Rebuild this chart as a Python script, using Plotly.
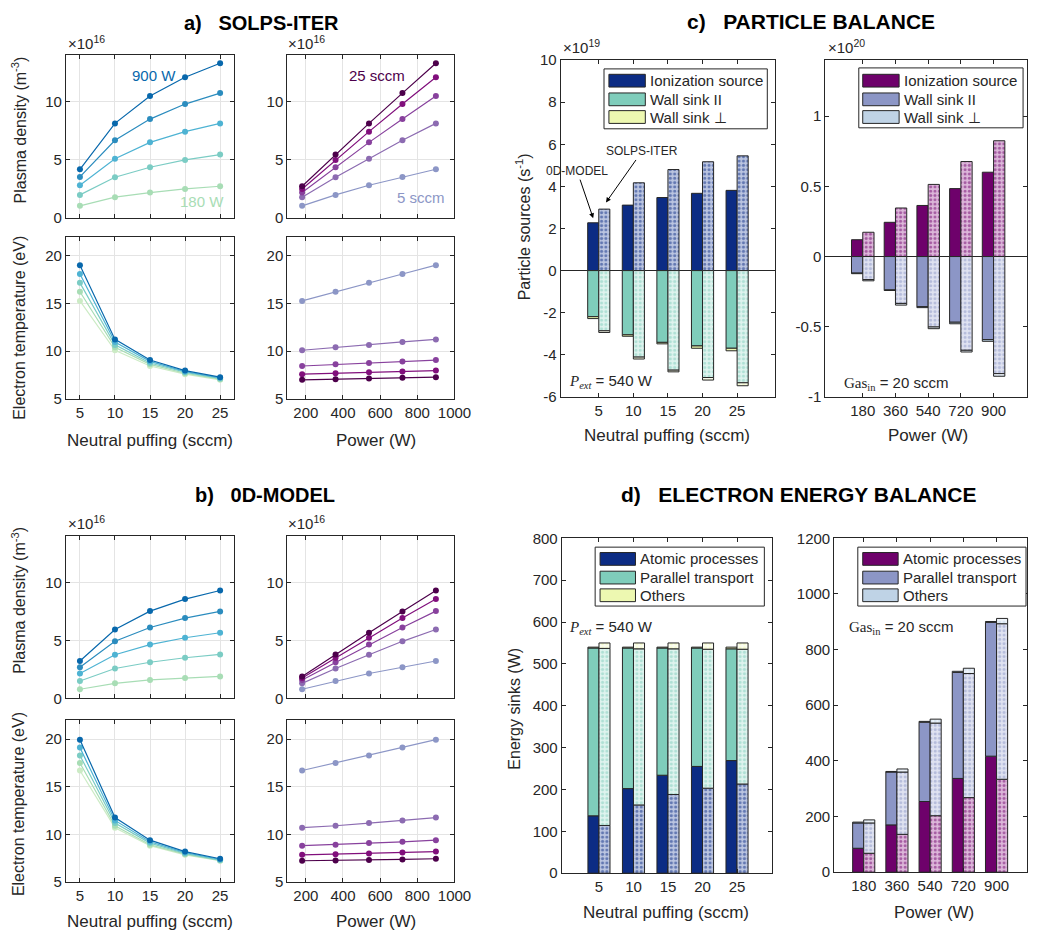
import plotly.graph_objects as go
import numpy as np

W, H = 1044, 945
FONT = "Liberation Sans, Arial, Helvetica, sans-serif"
SERIF = "Liberation Serif, Times New Roman, serif"
INK = "#262626"

# ---------------- data ----------------
puff = [5, 10, 15, 20, 25]            # sccm
power = [180, 360, 540, 720, 900]     # W

# plasma density (x1e16 m^-3), rows = power, cols = puff
dens_solps = [
    [1.06, 1.80, 2.20, 2.51, 2.74],
    [2.00, 3.51, 4.37, 5.00, 5.46],
    [2.83, 5.11, 6.51, 7.43, 8.14],
    [3.54, 6.69, 8.51, 9.80, 10.74],
    [4.20, 8.14, 10.49, 12.10, 13.30],
]
dens_0d = [
    [0.79, 1.30, 1.59, 1.76, 1.90],
    [1.50, 2.58, 3.12, 3.51, 3.80],
    [2.15, 3.77, 4.65, 5.24, 5.67],
    [2.69, 4.93, 6.12, 6.94, 7.51],
    [3.23, 5.95, 7.54, 8.58, 9.32],
]
# electron temperature (eV), rows = power, cols = puff
te_solps = [
    [15.28, 10.10, 8.45, 7.59, 7.00],
    [16.24, 10.41, 8.62, 7.69, 7.07],
    [17.17, 10.66, 8.76, 7.79, 7.14],
    [18.10, 10.97, 8.93, 7.86, 7.21],
    [19.03, 11.24, 9.07, 7.97, 7.28],
]
te_0d = [
    [16.70, 10.70, 8.81, 7.85, 7.23],
    [17.49, 10.90, 8.91, 7.92, 7.26],
    [18.28, 11.18, 9.08, 7.99, 7.30],
    [19.10, 11.46, 9.22, 8.09, 7.37],
    [19.93, 11.76, 9.39, 8.19, 7.44],
]

# particle balance vs puffing (x1e19 s^-1), P = 540 W
ion_0d_puff = [2.27, 3.11, 3.47, 3.67, 3.81]
wpar_0d_puff = [2.19, 3.05, 3.41, 3.58, 3.69]
wperp_0d_puff = [0.09, 0.07, 0.07, 0.11, 0.12]
ion_solps_puff = [2.92, 4.17, 4.80, 5.17, 5.45]
wpar_solps_puff = [2.86, 4.11, 4.73, 5.08, 5.33]
wperp_solps_puff = [0.08, 0.09, 0.08, 0.12, 0.14]
# particle balance vs power (x1e20 s^-1), gas = 20 sccm
ion_0d_pow = [0.120, 0.244, 0.364, 0.484, 0.601]
wpar_0d_pow = [0.118, 0.237, 0.357, 0.468, 0.592]
wperp_0d_pow = [0.004, 0.005, 0.007, 0.011, 0.012]
ion_solps_pow = [0.173, 0.346, 0.514, 0.677, 0.825]
wpar_solps_pow = [0.164, 0.334, 0.502, 0.668, 0.834]
wperp_solps_pow = [0.009, 0.012, 0.012, 0.012, 0.019]

# electron energy balance vs puffing (W)
atom_0d_puff = [137, 202, 234, 255, 269]
par_0d_puff = [401, 336, 304, 283, 267]
oth_0d_puff = [2, 2, 2, 2, 4]
atom_solps_puff = [114, 163, 188, 203, 213]
par_solps_puff = [423, 373, 348, 332, 322]
oth_solps_puff = [13, 14, 14, 15, 15]
# electron energy balance vs power (W)
atom_0d_pow = [86, 170, 254, 337, 417]
par_0d_pow = [91, 190, 285, 381, 481]
oth_0d_pow = [3, 2, 3, 4, 3]
atom_solps_pow = [68, 136, 203, 268, 334]
par_solps_pow = [109, 224, 333, 446, 559]
oth_solps_pow = [11, 11, 14, 19, 19]

# ---------------- styles ----------------
pow_col_n = ["#a8ddb5", "#7bccc4", "#4eb3d3", "#2b8cbe", "#0868ac"]
pow_col_t = ["#ccebc5", "#a8ddb5", "#7bccc4", "#4eb3d3", "#0868ac"]
puff_col = ["#8c96c6", "#8c6bb1", "#88419d", "#810f7c", "#4d004b"]

L_main = ["#0c2c84", "#7fcdbb", "#edf8b1"]
L_light = ["#bac4e0", "#def3ee", "#fbfdf0"]
R_main = ["#6e016b", "#8c96c6", "#bfd3e6"]
R_light = ["#dcb6d9", "#dfe2f1", "#eef3f9"]

TICK = 15
HT = 17   # horizontal axis titles
VT = 16   # vertical axis titles

fig = go.Figure()

boxes = {
    1: (67, 238, 47, 213), 2: (292, 462, 47, 213),
    3: (67, 238, 232, 397), 4: (292, 462, 232, 397),
    5: (67, 238, 537, 702), 6: (292, 462, 537, 702),
    7: (67, 238, 724, 889), 8: (292, 462, 724, 889),
    9: (570, 788, 52, 395), 10: (839, 1044, 52, 395),
    11: (571, 785, 539, 880), 12: (848, 1044, 539, 879),
}

def sfx(i):
    return "" if i == 1 else str(i)

layout = dict(width=W, height=H, margin=dict(l=0, r=0, t=0, b=0),
              paper_bgcolor="white", plot_bgcolor="white", showlegend=False,
              barmode="relative", font=dict(family=FONT, color=INK))
base = dict(showline=True, linecolor=INK, linewidth=1, mirror="allticks",
            ticks="inside", ticklen=4, tickwidth=1, tickcolor=INK,
            tickfont=dict(family=FONT, size=TICK, color=INK), zeroline=False,
            showgrid=False, fixedrange=True)
for i, (x0, x1, y0, y1) in boxes.items():
    s = sfx(i)
    layout["xaxis" + s] = dict(base, domain=[x0 / W, x1 / W], anchor="y" + s)
    layout["yaxis" + s] = dict(base, domain=[1 - y1 / H, 1 - y0 / H], anchor="x" + s)

grid = dict(showgrid=True, gridcolor="#e4e4e4", gridwidth=1)
for i in range(1, 9):
    s = sfx(i)
    left = i % 2 == 1
    top = i in (1, 2, 5, 6)
    if left:
        xa = dict(range=[3, 27], tickvals=puff)
    else:
        xa = dict(range=[100, 1000], tickvals=[200, 400, 600, 800, 1000])
    xa.update(grid, showticklabels=not top)
    layout["xaxis" + s].update(xa)
    if top:
        ya = dict(range=[0, 14], tickvals=[0, 5, 10])
    else:
        ya = dict(range=[5, 22], tickvals=[5, 10, 15, 20])
    ya.update(grid)
    layout["yaxis" + s].update(ya)

def hy(vals):
    return [("-" + f"{abs(v):g}") if v < 0 else f"{v:g}" for v in vals]

yt9 = [-6, -4, -2, 0, 2, 4, 6, 8, 10]
layout["xaxis9"].update(range=[-0.5, 30.5], tickvals=puff)
layout["yaxis9"].update(range=[-6, 10], tickvals=yt9, ticktext=hy(yt9),
                        zeroline=True, zerolinecolor=INK, zerolinewidth=1)
yt10 = [-1, -0.5, 0, 0.5, 1]
layout["xaxis10"].update(range=[-26, 1084], tickvals=power)
layout["yaxis10"].update(range=[-1, 1.4], tickvals=yt10, ticktext=hy(yt10),
                         zeroline=True, zerolinecolor=INK, zerolinewidth=1)
layout["xaxis11"].update(range=[-0.4, 30.1], tickvals=puff)
layout["yaxis11"].update(range=[0, 800], dtick=100)
layout["xaxis12"].update(range=[20, 1065], tickvals=power)
layout["yaxis12"].update(range=[0, 1200], dtick=200)

# ---------------- line panels ----------------
def lines(ax, data, by_power, colors):
    arr = np.array(data)
    s = sfx(ax)
    for k in range(5):
        if by_power:
            x, y = puff, arr[k, :]
        else:
            x, y = power, arr[:, k]
        fig.add_trace(go.Scatter(x=x, y=y, mode="lines+markers",
                                 line=dict(color=colors[k], width=1.2),
                                 marker=dict(size=6, color=colors[k]),
                                 xaxis="x" + s, yaxis="y" + s, hoverinfo="skip"))

lines(1, dens_solps, True, pow_col_n)
lines(2, dens_solps, False, puff_col)
lines(3, te_solps, True, pow_col_t)
lines(4, te_solps, False, puff_col)
lines(5, dens_0d, True, pow_col_n)
lines(6, dens_0d, False, puff_col)
lines(7, te_0d, True, pow_col_t)
lines(8, te_0d, False, puff_col)

# ---------------- bar panels ----------------
def bars(ax, cats, w, series0, seriesS, signs, main, light):
    s = sfx(ax)
    c = np.array(cats, dtype=float)
    for vals, sg, col in zip(series0, signs, main):
        fig.add_trace(go.Bar(x=c - w / 2, y=sg * np.array(vals), width=w,
                             marker=dict(color=col, line=dict(color=INK, width=1)),
                             xaxis="x" + s, yaxis="y" + s, hoverinfo="skip"))
    for vals, sg, col, lc in zip(seriesS, signs, main, light):
        fig.add_trace(go.Bar(x=c + w / 2, y=sg * np.array(vals), width=w,
                             marker=dict(color=lc, line=dict(color=INK, width=1),
                                         pattern=dict(shape=".", fgcolor=col, bgcolor=lc,
                                                      size=4.3, solidity=0.4)),
                             xaxis="x" + s, yaxis="y" + s, hoverinfo="skip"))

bars(9, puff, 1.6, [ion_0d_puff, wpar_0d_puff, wperp_0d_puff],
     [ion_solps_puff, wpar_solps_puff, wperp_solps_puff], [1, -1, -1], L_main, L_light)
bars(10, power, 62, [ion_0d_pow, wpar_0d_pow, wperp_0d_pow],
     [ion_solps_pow, wpar_solps_pow, wperp_solps_pow], [1, -1, -1], R_main, R_light)
bars(11, puff, 1.6, [atom_0d_puff, par_0d_puff, oth_0d_puff],
     [atom_solps_puff, par_solps_puff, oth_solps_puff], [1, 1, 1], L_main, L_light)
bars(12, power, 60, [atom_0d_pow, par_0d_pow, oth_0d_pow],
     [atom_solps_pow, par_solps_pow, oth_solps_pow], [1, 1, 1], R_main, R_light)

# ---------------- annotations ----------------
ann = []
shapes = []

def A(x, y, text, size=14, color=INK, xanchor="center", yanchor="middle", angle=0, family=FONT):
    ann.append(dict(x=x / W, y=1 - y / H, xref="paper", yref="paper", text=text,
                    showarrow=False, xanchor=xanchor, yanchor=yanchor, textangle=angle,
                    font=dict(family=family, size=size, color=color)))

# titles
SP = "&nbsp;&nbsp;&nbsp;"
A(266, 14, "<b>a)" + SP + "SOLPS-ITER</b>", size=20, color="black")
A(269, 495, "<b>b)" + SP + "0D-MODEL</b>", size=20, color="black")
A(824, 13, "<b>c)" + SP + "PARTICLE BALANCE</b>", size=21, color="black")
A(812, 494, "<b>d)" + SP + "ELECTRON ENERGY BALANCE</b>", size=21, color="black")

# exponent labels
for (x, y, e) in [(67, 46, "16"), (291, 46, "16"), (67, 535, "16"), (291, 535, "16"),
                  (570, 50, "19"), (840, 50, "20")]:
    A(x, y, "×10<sup>" + e + "</sup>", size=15, xanchor="left", yanchor="bottom")

# axis titles
for yc in (123, 602):
    A(19, yc, "Plasma density (m<sup>-3</sup>)", size=VT, angle=-90)
for yc in (325, 810):
    A(19, yc, "Electron temperature (eV)", size=VT, angle=-90)
for yc in (439, 929):
    A(152, yc, "Neutral puffing (sccm)", size=HT)
    A(382, yc, "Power (W)", size=HT)
A(532, 222, "Particle sources (s<sup>-1</sup>)", size=VT, angle=-90)
A(523, 712, "Energy sinks (W)", size=VT, angle=-90)
A(678, 434, "Neutral puffing (sccm)", size=HT)
A(943, 434, "Power (W)", size=HT)
A(677, 920, "Neutral puffing (sccm)", size=HT)
A(949, 920, "Power (W)", size=HT)

# in-plot labels
A(157, 68, "900 W", size=15, color=pow_col_n[4])
A(205, 196, "180 W", size=15, color=pow_col_n[0])
A(383, 68, "25 sccm", size=15, color=puff_col[4])
A(428, 192, "5 sccm", size=15, color=puff_col[0])

pext = ('<span style="font-family:Liberation Serif"><i>P</i><sub><i>ext</i></sub></span>'
        ' = 540 W')
gas = '<span style="font-family:Liberation Serif">Gas<sub>in</sub></span> = 20 sccm'
A(576, 379, pext, size=15, xanchor="left")
A(576, 630, pext, size=15, xanchor="left")
A(856, 381, gas, size=15, xanchor="left")
A(861, 630, gas, size=15, xanchor="left")

# arrows
ann.append(dict(x=616 / W, y=1 - 197 / H, xref="paper", yref="paper", text="SOLPS-ITER",
                showarrow=True, ax=36, ay=-51, arrowhead=2, arrowsize=1, arrowwidth=1,
                arrowcolor="black", font=dict(family=FONT, size=12, color=INK)))
ann.append(dict(x=603 / W, y=1 - 213 / H, xref="paper", yref="paper", text="0D-MODEL",
                showarrow=True, ax=-16, ay=-47, arrowhead=2, arrowsize=1, arrowwidth=1,
                arrowcolor="black", font=dict(family=FONT, size=12, color=INK)))

# legends
def legend(x0, x1, y0, y1, sw0, sw1, tx, rows, labels, colors):
    shapes.append(dict(type="rect", xref="paper", yref="paper", x0=x0 / W, x1=x1 / W,
                       y0=1 - y1 / H, y1=1 - y0 / H, fillcolor="white",
                       line=dict(color=INK, width=1)))
    for yc, lab, col in zip(rows, labels, colors):
        shapes.append(dict(type="rect", xref="paper", yref="paper", x0=sw0 / W, x1=sw1 / W,
                           y0=1 - (yc + 6.5) / H, y1=1 - (yc - 6.5) / H, fillcolor=col,
                           line=dict(color=INK, width=1)))
        A(tx, yc, lab, size=15, xanchor="left")

pl = ["Ionization source", "Wall sink II", "Wall sink ⊥"]
el = ["Atomic processes", "Parallel transport", "Others"]
legend(614, 780, 61, 122, 619, 656, 659, [73, 92, 110], pl, L_main)
legend(873, 1040, 60, 121, 877, 914, 917, [73, 92, 110], pl, R_main)
legend(605, 777, 548, 608, 610, 646, 649, [560, 579, 597], el, L_main)
legend(872, 1043, 548, 608, 877, 913, 916, [560, 579, 597], el, R_main)

layout["annotations"] = ann
layout["shapes"] = shapes
fig.update_layout(**layout)
fig.write_html("out.html")
